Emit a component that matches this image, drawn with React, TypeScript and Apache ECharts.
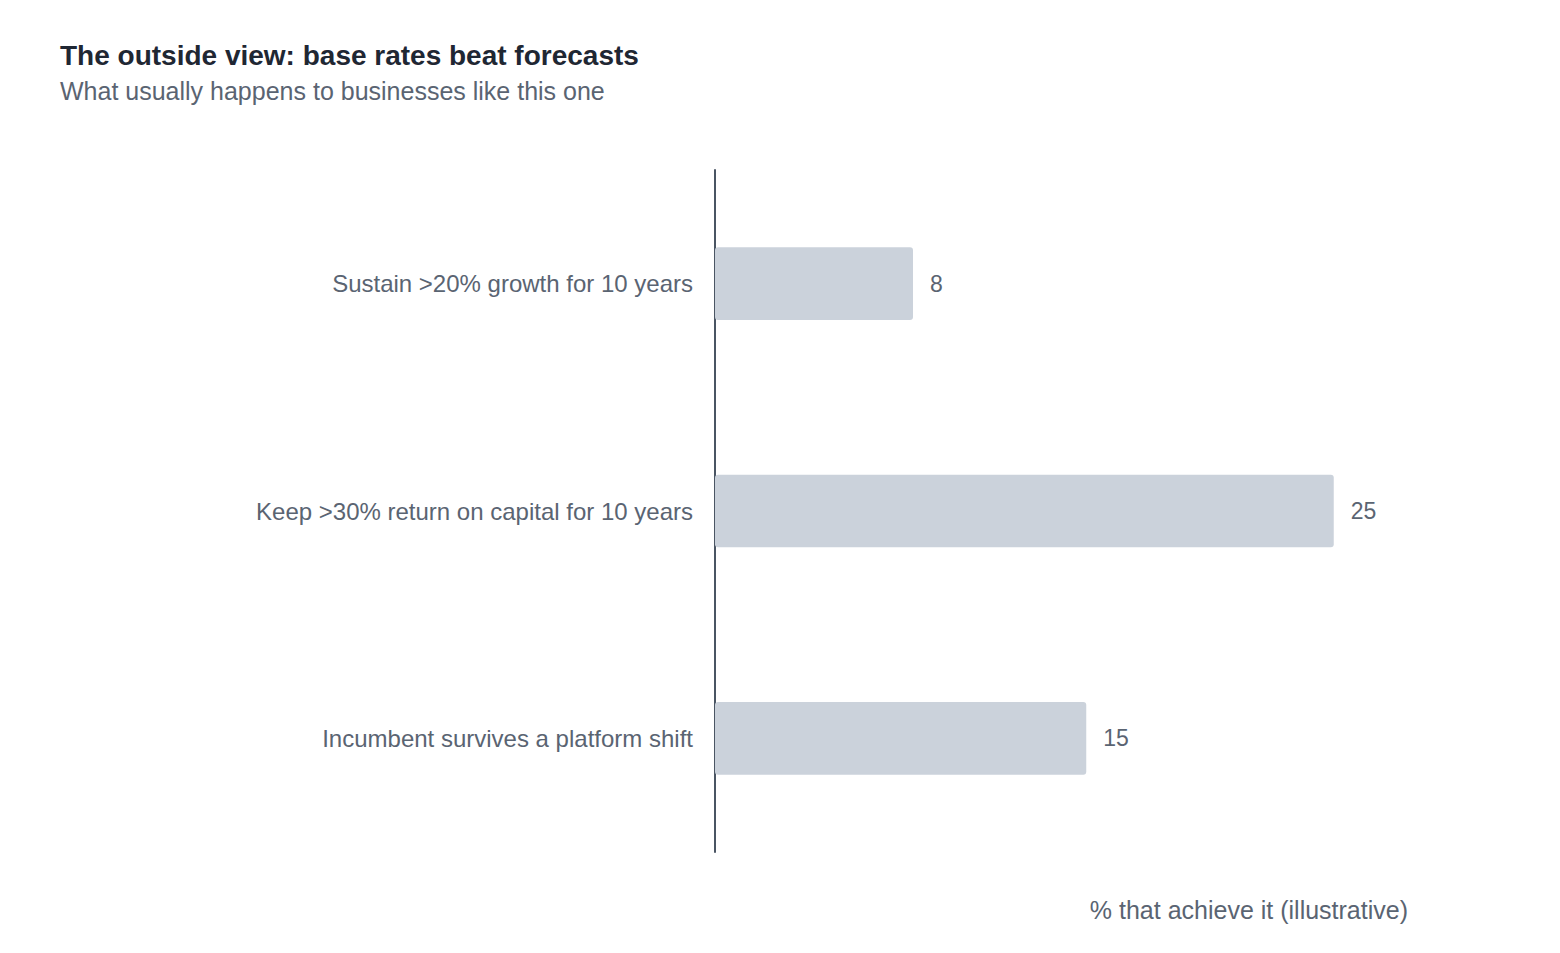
import React, { useEffect, useRef } from "react";
import * as echarts from "echarts";

const categories = [
  "Sustain >20% growth for 10 years",
  "Keep >30% return on capital for 10 years",
  "Incumbent survives a platform shift",
];
const values = [8, 25, 15];
const titleText = "The outside view: base rates beat forecasts";
const subtitleText = "What usually happens to businesses like this one";
const xAxisName = "% that achieve it (illustrative)";

const FONT = "Liberation Sans, Arial, Helvetica, sans-serif";

export default function App() {
  const ref = useRef<HTMLDivElement>(null);
  useEffect(() => {
    if (!ref.current) return;
    const chart = echarts.init(ref.current, undefined, { renderer: "svg" });
    chart.setOption({
      animation: false,
      backgroundColor: "#ffffff",
      title: {
        text: titleText,
        subtext: subtitleText,
        left: 47,
        top: 28,
        itemGap: 9,
        textStyle: { fontFamily: FONT, fontSize: 28, fontWeight: "bold", color: "#1f2733" },
        subtextStyle: { fontFamily: FONT, fontSize: 25, color: "#5a6472" },
      },
      grid: { left: 707, right: 144, top: 162, bottom: 93, containLabel: false },
      xAxis: {
        type: "value",
        min: 0,
        max: 28,
        show: true,
        axisLine: { show: false },
        axisTick: { show: false },
        axisLabel: { show: false },
        splitLine: { show: false },
        name: xAxisName,
        nameLocation: "end",
        nameGap: 0,
        nameTextStyle: {
          fontFamily: FONT,
          fontSize: 25,
          color: "#5a6472",
          align: "right",
          verticalAlign: "top",
          padding: [45, 0, 0, 0],
        },
      },
      yAxis: {
        type: "category",
        data: categories,
        inverse: true,
        axisLine: { show: true, lineStyle: { color: "#4a5563", width: 2 } },
        axisTick: { show: false },
        axisLabel: { fontFamily: FONT, fontSize: 24, color: "#5a6472", margin: 22 },
        splitLine: { show: false },
      },
      series: [
        {
          type: "bar",
          data: values,
          barWidth: "32%",
          itemStyle: { color: "#cbd2db", borderRadius: 3 },
          label: {
            show: true,
            position: "right",
            distance: 17,
            fontFamily: FONT,
            fontSize: 23,
            color: "#5a6472",
          },
        },
      ],
    });
    return () => chart.dispose();
  }, []);
  return <div ref={ref} style={{ width: 1544, height: 937 }} />;
}
